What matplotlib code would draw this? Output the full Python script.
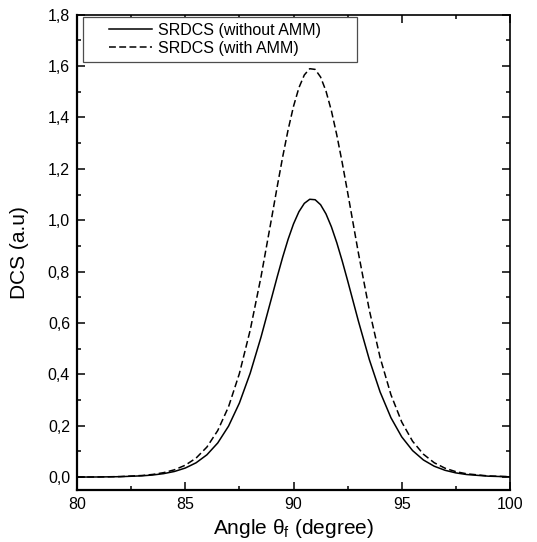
import matplotlib
matplotlib.use("Agg")
import matplotlib.pyplot as plt
from matplotlib.ticker import MultipleLocator, FuncFormatter
from matplotlib.legend_handler import HandlerLine2D
from matplotlib.lines import Line2D

angle = [80, 81, 82, 83, 83.5, 84, 84.5, 85, 85.5, 86, 86.5, 87, 87.5, 88, 88.5,
         89, 89.25, 89.5, 89.75, 90, 90.25, 90.5, 90.75, 91, 91.25, 91.5, 91.75,
         92, 92.25, 92.5, 93, 93.5, 94, 94.5, 95, 95.5, 96, 96.5, 97, 97.5, 98,
         99, 100]
dcs_without = [0.0003, 0.0007, 0.0019, 0.0051, 0.0084, 0.0137, 0.0221, 0.0354,
               0.0559, 0.0870, 0.1330, 0.1986, 0.2883, 0.4046, 0.5453, 0.7016,
               0.7805, 0.8562, 0.9256, 0.9856, 1.0331, 1.0657, 1.0816, 1.0798,
               1.0605, 1.0247, 0.9745, 0.9124, 0.8414, 0.7648, 0.6067, 0.4582,
               0.3316, 0.2314, 0.1566, 0.1034, 0.0669, 0.0425, 0.0267, 0.0166,
               0.0102, 0.0038, 0.0014]
dcs_with = [0.0003, 0.0008, 0.0023, 0.0064, 0.0106, 0.0175, 0.0286, 0.0464,
            0.0742, 0.1171, 0.1813, 0.2741, 0.4030, 0.5723, 0.7800, 1.0132,
            1.1319, 1.2464, 1.3518, 1.4431, 1.5157, 1.5655, 1.5898, 1.5871,
            1.5575, 1.5029, 1.4262, 1.3316, 1.2240, 1.1084, 0.8713, 0.6512,
            0.4657, 0.3210, 0.2145, 0.1398, 0.0893, 0.0561, 0.0348, 0.0213,
            0.0130, 0.0047, 0.0017]
labels = ["SRDCS (without AMM)", "SRDCS (with AMM)"]

plt.rcParams['font.family'] = ['Liberation Sans', 'DejaVu Sans']
plt.rcParams['mathtext.fontset'] = 'custom'
plt.rcParams['mathtext.rm'] = 'Liberation Sans'
plt.rcParams['mathtext.it'] = 'Liberation Sans'

fig = plt.figure(figsize=(5.37, 5.42), dpi=100)
ax = fig.add_axes([77/537, 1-490/542, 433/537, (490-14.7)/542])

ax.plot(angle, dcs_without, color='black', lw=1.1, label=labels[0])
ax.plot(angle, dcs_with, color='black', lw=1.1, linestyle=(0, (4.5, 2.2)), label=labels[1])

ax.set_xlim(80, 100)
ax.set_ylim(-0.05, 1.8)
ax.xaxis.set_major_locator(MultipleLocator(5))
ax.xaxis.set_minor_locator(MultipleLocator(2.5))
ax.yaxis.set_major_locator(MultipleLocator(0.2))
ax.yaxis.set_minor_locator(MultipleLocator(0.1))
ax.yaxis.set_major_formatter(FuncFormatter(lambda v, p: f"{v:.1f}".replace('.', ',').replace('-0,0', '0,0')))
ax.xaxis.set_major_formatter(FuncFormatter(lambda v, p: f"{v:.0f}"))

ax.tick_params(which='both', direction='in', top=True, right=True, width=1.1, labelsize=11.5)
ax.tick_params(which='major', length=6, pad=5)
ax.tick_params(which='minor', length=3)
for s in ['left', 'bottom']:
    ax.spines[s].set_linewidth(1.6)
for s in ['top', 'right']:
    ax.spines[s].set_linewidth(1.2)

ax.set_xlabel(r'Angle $\mathregular{\theta_f}$ (degree)', fontsize=15)
ax.set_ylabel('DCS (a.u)', fontsize=15)
ax.xaxis.set_label_coords(0.5, -0.056)
ax.yaxis.set_label_coords(-0.11, 0.5)

leg = ax.legend(loc='upper left', bbox_to_anchor=(0.0132, 0.995, 0.6335, 0.0), mode='expand',
                borderaxespad=0, fontsize=11.5, handlelength=4.0, handletextpad=0.35,
                labelspacing=0.2, borderpad=0.36, fancybox=False, framealpha=1,
                edgecolor='0.3', handler_map={Line2D: HandlerLine2D(xpad=1.3)})
leg.get_frame().set_linewidth(0.9)

fig.savefig('out.png', dpi=100)
